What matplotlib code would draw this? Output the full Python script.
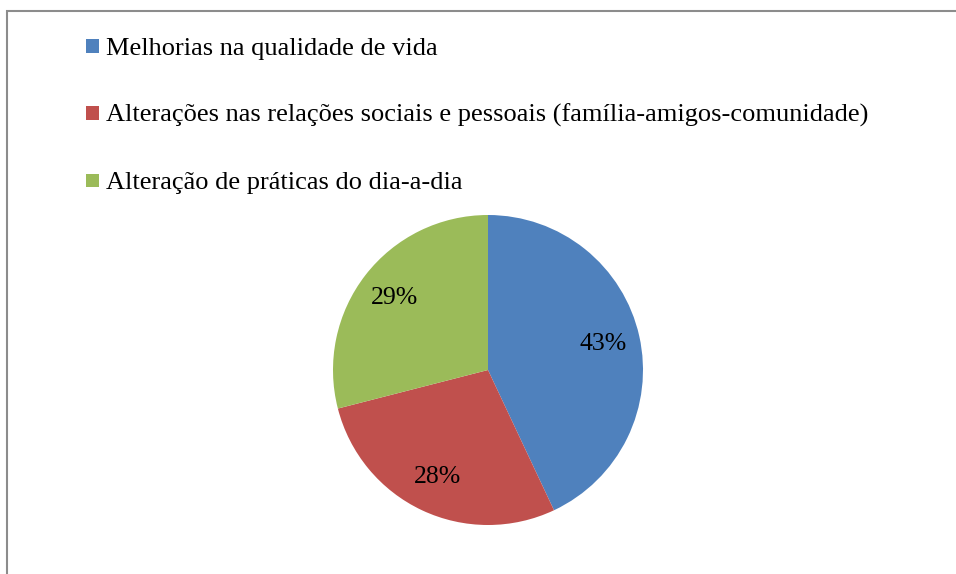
import matplotlib
matplotlib.use("Agg")
import matplotlib.pyplot as plt
from matplotlib.patches import Rectangle

categories = [
    "Melhorias na qualidade de vida",
    "Alterações nas relações sociais e pessoais (família-amigos-comunidade)",
    "Alteração de práticas do dia-a-dia",
]
values = [43, 28, 29]
colors = ["#4F81BD", "#C0504D", "#9BBB59"]

plt.rcParams['font.family'] = ['Liberation Serif', 'DejaVu Serif']

W, H = 956, 574
fig = plt.figure(figsize=(W / 100, H / 100), dpi=100)
fig.patch.set_facecolor("white")

# outer border (extends beyond right and bottom edge)
fig.patches.append(Rectangle((7 / W, -0.1), 1.2, (H - 11) / H + 0.1,
                             transform=fig.transFigure, fill=False,
                             edgecolor="#8c8c8c", linewidth=1.5))

cx, cy, r = 488, 370, 155
ax = fig.add_axes([(cx - r) / W, (H - cy - r) / H, 2 * r / W, 2 * r / H])
wedges, texts, autotexts = ax.pie(values, colors=colors, startangle=90,
                                  counterclock=False, autopct="%1.0f%%",
                                  pctdistance=0.76, radius=1,
                                  wedgeprops=dict(linewidth=0))
for t in autotexts:
    t.set_fontsize(18.5)
    t.set_color("black")
ax.set_xlim(-1, 1)
ax.set_ylim(-1, 1)
ax.axis("off")

# legend
row_y = [46, 113, 180]
for cat, col, y in zip(categories, colors, row_y):
    fig.patches.append(Rectangle((86 / W, (H - y - 6.5) / H), 13 / W, 13 / H,
                                 transform=fig.transFigure, facecolor=col,
                                 edgecolor="none"))
    fig.text(106 / W, (H - y) / H, cat, fontsize=19, va="center_baseline",
             ha="left", color="black")

fig.savefig("out.png", dpi=100)
